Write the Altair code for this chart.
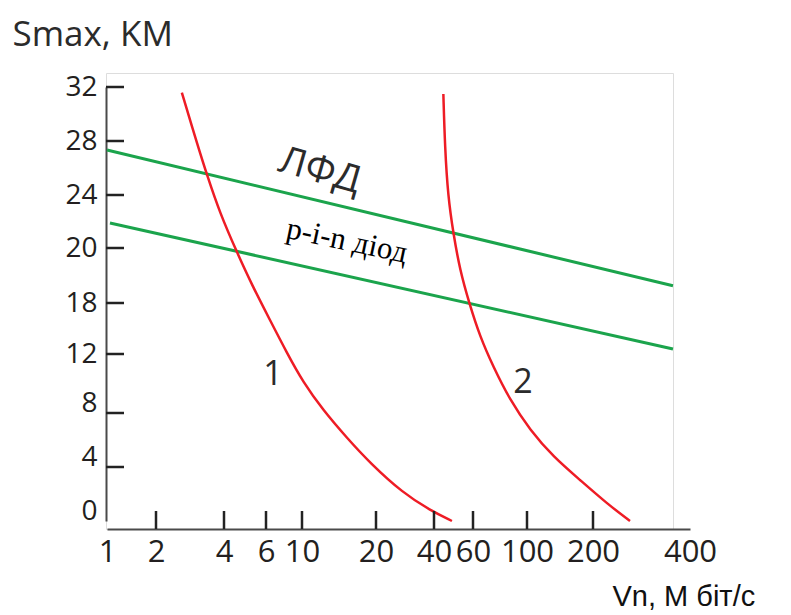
import altair as alt
import pandas as pd

# ---- data ----
x_tick_labels = [1, 2, 4, 6, 10, 20, 40, 60, 100, 200, 400]
x_tick_marks = [2, 4, 6, 10, 20, 40, 60, 100, 200]
y_tick_labels = [0, 4, 8, 12, 18, 20, 24, 28, 32]
y_tick_marks = [4, 8, 12, 18, 20, 24, 28, 32]

curve1_vn = [2.76, 3.24, 3.5, 3.88, 4.6, 5.38, 6.44, 8.33, 10.14, 12.84, 16.08, 19.19, 29.3, 38.6, 49.2]
curve1_s = [31.58, 27.56, 25.48, 22.64, 19.87, 18.58, 16.0, 12.12, 10.1, 8.2, 6.15, 4.3, 2.07, 0.81, 0.0]
curve2_vn = [44.8, 45.6, 47.2, 49.9, 53.3, 58.1, 65.2, 75.0, 87.4, 104.5, 139.8, 180.3, 228.2, 276.3]
curve2_s = [31.48, 27.58, 23.87, 21.11, 19.2, 17.96, 14.04, 11.14, 8.88, 6.74, 4.76, 3.04, 1.31, 0.0]
lfd_vn = [1.0, 364.9]
lfd_s = [27.33, 18.63]
pin_vn = [1.06, 364.9]
pin_s = [21.89, 12.59]

W, H = 567, 456
x_range = [1, 50, 118, 160, 196, 270, 328, 367, 421, 487, 584]
y_range = [448, 394, 340, 281, 230, 175, 122, 68, 14]

xscale = alt.Scale(domain=x_tick_labels, range=x_range, nice=False, zero=False, clamp=False)
yscale = alt.Scale(domain=y_tick_labels, range=y_range, nice=False, zero=False, clamp=False)

xaxis = alt.Axis(
    values=x_tick_labels, format="d", grid=False, ticks=False,
    domain=True, domainColor="#4a4a4a", domainWidth=2,
    labelFont="Open Sans", labelFontSize=31, labelColor="#231f20",
    labelPadding=8, labelFlush=False, labelOverlap=False, labelBound=False,
    title="Vn, M біт/с", titleFont="Liberation Sans", titleFontSize=29,
    titleFontWeight="normal", titleColor="#111111", titleAlign="left",
    titleBaseline="alphabetic", titleX=506, titleY=76,
)
yaxis = alt.Axis(
    values=y_tick_labels, format="d", grid=False, ticks=False,
    domain=True, domainColor="#4a4a4a", domainWidth=2,
    labelFont="Open Sans", labelFontSize=28, labelColor="#231f20",
    labelPadding=9, labelFlush=False, labelOverlap=False, labelBound=False,
    labelOffset={"condition": {"test": "datum.value <= 8", "value": -10}, "value": 0},
    title="Smax, KM", titleFont="Open Sans", titleFontSize=35,
    titleFontWeight="normal", titleColor="#2b2b2b", titleAngle=0,
    titleAlign="left", titleBaseline="alphabetic", titleX=-94, titleY=-28,
)


def X():
    return alt.X("vn:Q", scale=xscale, axis=xaxis)


def Y():
    return alt.Y("s:Q", scale=yscale, axis=yaxis)


red = "#ee1c25"
green = "#1ba44c"

c1 = pd.DataFrame({"vn": curve1_vn, "s": curve1_s})
c2 = pd.DataFrame({"vn": curve2_vn, "s": curve2_s})
lfd = pd.DataFrame({"vn": lfd_vn, "s": lfd_s})
pin = pd.DataFrame({"vn": pin_vn, "s": pin_s})

l_c1 = alt.Chart(c1).mark_line(color=red, strokeWidth=2.5, interpolate="basis").encode(x=X(), y=Y())
l_c2 = alt.Chart(c2).mark_line(color=red, strokeWidth=2.5, interpolate="basis").encode(x=X(), y=Y())
l_lfd = alt.Chart(lfd).mark_line(color=green, strokeWidth=3).encode(x=X(), y=Y())
l_pin = alt.Chart(pin).mark_line(color=green, strokeWidth=3).encode(x=X(), y=Y())

xt = pd.DataFrame({"vn": x_tick_marks})
yt = pd.DataFrame({"s": y_tick_marks})
r_x = alt.Chart(xt).mark_rule(color="#222222", strokeWidth=2.5).encode(
    x=X(), y=alt.value(H), y2=alt.value(H - 18))
r_y = alt.Chart(yt).mark_rule(color="#222222", strokeWidth=2.5).encode(
    y=Y(), x=alt.value(0), x2=alt.value(18))

ann_lfd = pd.DataFrame({"vn": [12.4], "s": [25.75], "t": ["ЛФД"]})
ann_pin = pd.DataFrame({"vn": [16.08], "s": [20.5], "t": ["p-i-n діод"]})
ann_num = pd.DataFrame({"vn": [6.78, 97.0], "s": [10.58, 10.03], "t": ["1", "2"]})

t_lfd = alt.Chart(ann_lfd).mark_text(font="Open Sans", fontSize=38, angle=16, color="#2b2b2b").encode(
    x=X(), y=Y(), text="t:N")
t_pin = alt.Chart(ann_pin).mark_text(font="Liberation Serif", fontSize=31, angle=12, color="#000000").encode(
    x=X(), y=Y(), text="t:N")
t_num = alt.Chart(ann_num).mark_text(font="Open Sans", fontSize=34, color="#2b2b2b").encode(
    x=X(), y=Y(), text="t:N")

chart = alt.layer(l_lfd, l_pin, l_c1, l_c2, r_x, r_y, t_lfd, t_pin, t_num).properties(
    width=W, height=H,
    autosize=alt.AutoSizeParams(type="none"),
    padding={"left": 98, "top": 65, "right": 100, "bottom": 84},
).configure_view(stroke="#9a9a9a", strokeWidth=2).configure(background="white")

chart.save("out.html", embed_options={"renderer": "svg", "actions": False})
